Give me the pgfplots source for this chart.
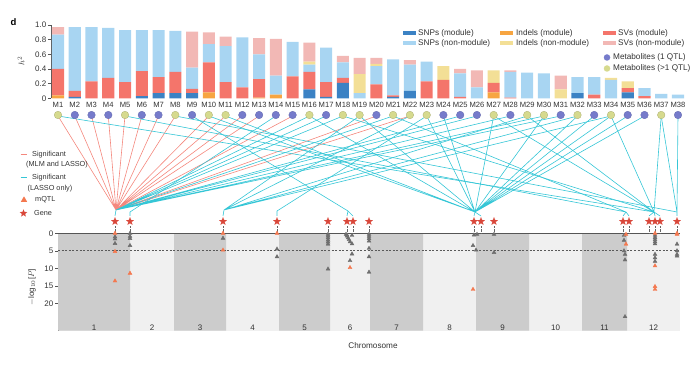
\documentclass[border=0pt]{standalone}
\usepackage{fontspec}
\setmainfont{Liberation Sans}
\usepackage{pgfplots}
\usepackage{pgfplotstable}
\pgfplotsset{compat=1.18}
\usetikzlibrary{shapes.geometric}
\definecolor{snpm}{HTML}{3B82C4}
\definecolor{snpn}{HTML}{A8D5F2}
\definecolor{indm}{HTML}{F7A541}
\definecolor{indn}{HTML}{F3DF96}
\definecolor{svm}{HTML}{F4756B}
\definecolor{svn}{HTML}{F2B8B5}
\definecolor{metone}{HTML}{767BCB}
\definecolor{metmore}{HTML}{D6DA8E}
\definecolor{redline}{HTML}{F4877D}
\definecolor{cyanline}{HTML}{35C6D6}
\definecolor{trigray}{HTML}{6E6E6E}
\definecolor{triorange}{HTML}{F4784F}
\definecolor{starred}{HTML}{D9473A}
\definecolor{darkchr}{HTML}{CCCCCC}
\definecolor{lightchr}{HTML}{F0F0F0}
\definecolor{txt}{HTML}{333333}
\definecolor{axisgray}{HTML}{555555}
\newcommand\fsL{\fontsize{8.2}{9.8}\selectfont}
\newcommand\fsS{\fontsize{7.3}{8.6}\selectfont}
\newcommand\fsM{\fontsize{7.6}{9}\selectfont}
\newcommand\fsT{\fontsize{8}{9.4}\selectfont}
\pgfdeclareplotmark{fstar}{%
  \pgfpathmoveto{\pgfpointpolar{90}{\pgfplotmarksize}}%
  \pgfpathlineto{\pgfpointpolar{126}{0.42\pgfplotmarksize}}%
  \pgfpathlineto{\pgfpointpolar{162}{\pgfplotmarksize}}%
  \pgfpathlineto{\pgfpointpolar{198}{0.42\pgfplotmarksize}}%
  \pgfpathlineto{\pgfpointpolar{234}{\pgfplotmarksize}}%
  \pgfpathlineto{\pgfpointpolar{270}{0.42\pgfplotmarksize}}%
  \pgfpathlineto{\pgfpointpolar{306}{\pgfplotmarksize}}%
  \pgfpathlineto{\pgfpointpolar{342}{0.42\pgfplotmarksize}}%
  \pgfpathlineto{\pgfpointpolar{18}{\pgfplotmarksize}}%
  \pgfpathlineto{\pgfpointpolar{54}{0.42\pgfplotmarksize}}%
  \pgfpathclose\pgfusepathqfillstroke}

% heritability per metabolite, stacked components
\pgfplotstableread{
i snpm indm svm snpn indn svn
1 0 0.04 0.36 0.47 0 0.10
2 0.02 0 0.08 0.87 0 0
3 0 0 0.23 0.74 0 0
4 0 0 0.28 0.68 0 0
5 0 0 0.22 0.71 0 0
6 0.03 0 0.34 0.56 0 0
7 0.07 0 0.22 0.64 0 0
8 0.07 0 0.29 0.56 0 0
9 0.07 0 0.06 0.29 0 0.49
10 0 0.08 0.41 0.25 0 0.16
11 0 0 0.22 0.49 0 0.13
12 0 0 0.15 0.68 0 0
13 0 0.01 0.25 0.34 0 0.22
14 0 0.05 0 0.26 0 0.50
15 0 0 0.30 0.47 0 0
16 0.12 0 0.24 0.10 0.04 0.26
17 0.02 0 0.20 0.47 0 0
18 0.21 0 0.07 0.21 0 0.09
19 0 0 0 0.07 0.26 0.22
20 0 0 0.19 0.25 0.03 0.08
21 0.02 0 0.02 0.49 0 0
22 0.10 0 0 0.36 0 0.06
23 0 0 0.23 0.27 0 0
24 0 0 0.25 0 0.19 0
25 0 0 0.02 0.32 0 0.06
26 0 0 0 0.15 0 0.23
27 0 0.08 0.13 0 0.17 0
28 0 0 0.01 0.35 0 0.02
29 0 0 0 0.35 0 0
30 0 0 0 0.34 0 0
31 0 0 0 0 0.12 0.19
32 0.07 0 0 0.22 0 0
33 0 0 0.05 0.24 0 0
34 0 0 0 0.25 0.03 0
35 0.08 0 0.06 0 0.09 0
36 0 0 0.03 0.11 0 0
37 0 0 0 0.06 0 0
38 0 0 0 0.05 0 0
}\bars

% metabolite dots (x position in picture units)
\pgfplotstableread{
x y
74.8 115
91.5 115
108.3 115
141.8 115
158.5 115
192.1 115
242.3 115
259.1 115
275.8 115
292.6 115
326.1 115
376.4 115
443.4 115
460.2 115
476.9 115
510.4 115
560.7 115
594.2 115
627.7 115
644.5 115
678.0 115
}\metone
\pgfplotstableread{
x y
58.0 115
125.0 115
175.3 115
208.8 115
225.6 115
309.4 115
342.9 115
359.6 115
393.1 115
409.9 115
426.7 115
493.7 115
527.2 115
544.0 115
577.5 115
611.0 115
661.2 115
}\metmore

\begin{document}
\begin{tikzpicture}[x=1pt,y=1pt]
\useasboundingbox (0,0) rectangle (697,366);

% ---------------- top: stacked heritability bars
\begin{axis}[
  at={(51pt,267.7pt)}, anchor=south west, scale only axis,
  width=635.4pt, height=73.3pt,
  xmin=0.582, xmax=38.5, ymin=0, ymax=1,
  ybar stacked, bar width=0.72,
  axis y line*=left, axis x line*=bottom,
  x axis line style={draw=none},
  y axis line style={draw=axisgray, line width=0.5pt},
  xtick={1,...,38},
  xticklabel={M\pgfmathparse{int(\tick)}\pgfmathresult},
  xtick style={draw=none},
  ytick={0,0.2,0.4,0.6,0.8,1.0},
  yticklabels={0,0.2,0.4,0.6,0.8,1.0},
  ytick style={draw=axisgray, line width=0.5pt},
  tick align=outside, major tick length=3pt,
  xticklabel style={font=\fsM, text=txt, inner sep=1pt},
  yticklabel style={font=\fsT, text=txt, inner sep=1.5pt},
]
\addplot[fill=snpm, draw=none] table[x=i, y=snpm] {\bars};
\addplot[fill=indm, draw=none] table[x=i, y=indm] {\bars};
\addplot[fill=svm, draw=none] table[x=i, y=svm] {\bars};
\addplot[fill=snpn, draw=none] table[x=i, y=snpn] {\bars};
\addplot[fill=indn, draw=none] table[x=i, y=indn] {\bars};
\addplot[fill=svn, draw=none] table[x=i, y=svn] {\bars};
\end{axis}

% ---------------- bottom: mQTL positions by chromosome
\begin{axis}[
  at={(58pt,35.3pt)}, anchor=south west, scale only axis,
  width=622pt, height=97.4pt,
  xmin=58, xmax=680, ymin=0, ymax=27.8, y dir=reverse,
  clip=false,
  axis x line=none, axis y line*=left,
  y axis line style={draw=axisgray, line width=0.5pt},
  ytick={0,5,10,15,20}, yticklabels={0,5,10,15,20},
  ytick style={draw=axisgray, line width=0.5pt},
  tick align=outside, major tick length=3pt,
  yticklabel style={font=\fsT, text=txt, inner sep=1.5pt},
  axis background/.style={fill=lightchr},
]
\addplot[ybar interval, fill=darkchr, draw=none] coordinates {
 (58,27.8) (130,0) (174,27.8) (226,0) (279,27.8) (330,0) (370,27.8)
 (423,0) (476,27.8) (529,0) (582,27.8) (627,0) (680,0)};
\addplot[axisgray, line width=0.8pt, mark=none] coordinates {(58,0) (680,0)};
\addplot[black!65, line width=0.5pt, dash pattern=on 2pt off 1.6pt, mark=none] coordinates {(58,4.8) (680,4.8)};
% stubs below genes
\addplot[ycomb, black!60, line width=0.4pt, densely dotted, mark=none] table {
x y
115 -2.3
130 -2.3
223 -2.3
277 -2.3
328 -2.3
347 -2.3
353 -2.3
369 -2.3
474 -2.3
481 -2.3
494 -2.3
623 -2.3
629 -2.3
649 -2.3
655 -2.3
660 -2.3
677 -2.3
};
% gray mQTL triangles
\addplot[only marks, mark=triangle*, mark size=2.2pt, mark options={fill=trigray, draw=trigray}] table {
x y
115 1.0
115 1.6
115 2.9
130 0.0
130 0.9
130 1.5
130 3.5
223 1.4
277 4.5
277 6.7
328 0.3
328 0.8
328 1.3
328 1.9
328 2.5
328 3.1
328 10.2
346 0.3
347 0.8
348 1.3
349 1.8
350 2.4
352 3.0
352 5.9
350 7.8
347 0.5
352 0.6
369 0.3
369 0.9
369 1.5
369 2.2
369 4.3
369 6.7
369 11.1
474 0.5
477 0.3
473 3.5
476 4.8
494 0.3
494 5.5
624 0.6
624 2.0
624 5.0
625 6.0
625 7.6
625 23.8
655 0.6
655 1.2
655 1.8
655 2.4
655 3.0
655 6.0
655 7.0
655 8.0
677 3.1
677 5.0
677 6.0
677 6.5
};
% orange mQTL triangles
\addplot[only marks, mark=triangle*, mark size=2.2pt, mark options={fill=triorange, draw=triorange}] table {
x y
115 0.0
115 5.2
115 13.6
130 11.4
223 0.0
223 4.8
277 0.0
350 9.8
473 16.0
626 0.3
626 3.1
655 0.0
655 9.3
655 15.2
655 16.0
677 0.0
677 0.3
};
% genes
\addplot[only marks, mark=fstar, mark size=3.9pt, mark options={fill=starred, draw=starred, line width=0.2pt}] table {
x y
115 -3.4
130 -3.4
223 -3.4
277 -3.4
328 -3.4
347 -3.4
353 -3.4
369 -3.4
474 -3.4
481 -3.4
494 -3.4
623 -3.4
629 -3.4
649 -3.4
655 -3.4
660 -3.4
677 -3.4
};
\foreach \cx/\cn in {94/1,152/2,200/3,252.5/4,304.5/5,350/6,396.5/7,449.5/8,502.5/9,555.5/10,604.5/11,653.5/12}{
  \edef\tmp{\noexpand\node[font=\noexpand\fsT, text=txt] at (axis cs:\cx,27) {\cn};}\tmp
}
\end{axis}

% ---------------- overlay: links, metabolites, legends, labels
\begin{axis}[
  at={(0pt,0pt)}, anchor=south west, scale only axis,
  width=697pt, height=366pt,
  xmin=0, xmax=697, ymin=0, ymax=366, y dir=reverse,
  hide axis, clip=false,
]
% MLM and LASSO links
\addplot[redline, line width=0.6pt, line join=round, mark=none] coordinates {
 (58,116)(116,210)(74.8,116)(116,210)(91.5,116)(116,210)(108.3,116)(116,210)
 (125,116)(116,210)(141.8,116)(116,210)(158.5,116)(116,210)(175.3,116)(116,210)
 (208.8,116)(116,210)(225.6,116)(116,210)(242.3,116)(116,210)(259.1,116)(116,210)
 (292.6,116)(116,210)(376.4,116)(116,210)(409.9,116)(116,210)};
% LASSO-only links
\addplot[cyanline, line width=0.6pt, line join=round, mark=none] coordinates {
 (115,216)(116,210)(309.4,116)(116,210)(326.1,116)(116,210)(342.9,116)(116,210)
 (393.1,116)(116,210)(460.2,116)(116,210)(476.9,116)(116,210)(510.4,116)(116,210)
 (544,116)(116,210)(560.7,116)};
\addplot[cyanline, line width=0.6pt, line join=round, mark=none] coordinates {
 (130,216)(130,212)(275.8,116)};
\addplot[cyanline, line width=0.6pt, line join=round, mark=none] coordinates {
 (223,216)(224,210)(359.6,116)(224,210)(409.9,116)(224,210)(527.2,116)(224,210)
 (577.5,116)(224,210)(611,116)};
\addplot[cyanline, line width=0.6pt, line join=round, mark=none] coordinates {
 (277,216)(277,211)(426.7,116)};
\addplot[cyanline, line width=0.6pt, line join=round, mark=none] coordinates {
 (347,216)(348,211)(192.1,116)(348,211)(353,216)};
\addplot[cyanline, line width=0.6pt, line join=round, mark=none] coordinates {
 (474,216)(475,212)(481,216)(475,212)(208.8,116)(475,212)(225.6,116)(475,212)
 (309.4,116)(475,212)(359.6,116)(475,212)(426.7,116)(475,212)(443.4,116)(475,212)
 (493.7,116)(475,212)(544,116)(475,212)(577.5,116)(475,212)(594.2,116)(475,212)
 (611,116)(475,212)(627.7,116)(475,212)(644.5,116)};
\addplot[cyanline, line width=0.6pt, line join=round, mark=none] coordinates {
 (623,216)(626,212)(629,216)(626,212)(125,116)(626,212)(393.1,116)};
\addplot[cyanline, line width=0.6pt, line join=round, mark=none] coordinates {
 (649,216)(654,212)(655,216)(654,212)(660,216)(654,212)(58,116)(654,212)
 (342.9,116)(654,212)(493.7,116)(654,212)(527.2,116)(654,212)(611,116)(654,212)
 (661.2,116)};
\addplot[cyanline, line width=0.6pt, line join=round, mark=none] coordinates {
 (677,216)(677,212)(175.3,116)(677,212)(661.2,116)(677,212)(678,116)};
% metabolite dots
\addplot[only marks, mark=*, mark size=3.8pt, mark options={fill=metone, draw=metone!85!black, line width=0.3pt}] table {\metone};
\addplot[only marks, mark=*, mark size=3.8pt, mark options={fill=metmore, draw=metmore!80!black, line width=0.3pt}] table {\metmore};

% top-right legend
\fill[snpm] (axis cs:403,31.3) rectangle (axis cs:416,35.3);
\fill[snpn] (axis cs:403,41.3) rectangle (axis cs:416,45.3);
\fill[indm] (axis cs:500,31.3) rectangle (axis cs:513,35.3);
\fill[indn] (axis cs:500,41.3) rectangle (axis cs:513,45.3);
\fill[svm]  (axis cs:603,31.3) rectangle (axis cs:616,35.3);
\fill[svn]  (axis cs:603,41.3) rectangle (axis cs:616,45.3);
\node[anchor=west, font=\fsL, text=txt, inner sep=0] at (axis cs:418,33.3) {SNPs (module)};
\node[anchor=west, font=\fsL, text=txt, inner sep=0] at (axis cs:418,43.3) {SNPs (non-module)};
\node[anchor=west, font=\fsL, text=txt, inner sep=0] at (axis cs:516,33.3) {Indels (module)};
\node[anchor=west, font=\fsL, text=txt, inner sep=0] at (axis cs:516,43.3) {Indels (non-module)};
\node[anchor=west, font=\fsL, text=txt, inner sep=0] at (axis cs:618,33.3) {SVs (module)};
\node[anchor=west, font=\fsL, text=txt, inner sep=0] at (axis cs:618,43.3) {SVs (non-module)};
\node[circle, fill=metone, inner sep=0, minimum size=6.5pt] at (axis cs:607,57.5) {};
\node[circle, fill=metmore, inner sep=0, minimum size=6.5pt] at (axis cs:607,68.5) {};
\node[anchor=west, font=\fsL, text=txt, inner sep=0] at (axis cs:613,57.5) {Metabolites (1 QTL)};
\node[anchor=west, font=\fsL, text=txt, inner sep=0] at (axis cs:613,68.5) {Metabolites (>1 QTL)};

% left legend
\draw[redline, line width=0.8pt] (axis cs:20.5,154.3) -- (axis cs:27,154.3);
\node[anchor=west, font=\fsS, text=txt, inner sep=0] at (axis cs:32,154.3) {Significant};
\node[anchor=west, font=\fsS, text=txt, inner sep=0] at (axis cs:26,164.5) {(MLM and LASSO)};
\draw[cyanline, line width=0.8pt] (axis cs:20.5,177.3) -- (axis cs:27,177.3);
\node[anchor=west, font=\fsS, text=txt, inner sep=0] at (axis cs:32,177.3) {Significant};
\node[anchor=west, font=\fsS, text=txt, inner sep=0] at (axis cs:27.5,188.3) {(LASSO only)};
\node[isosceles triangle, isosceles triangle apex angle=60, shape border rotate=90, fill=triorange, inner sep=0, minimum size=5.5pt] at (axis cs:24,200) {};
\node[anchor=west, font=\fsS, text=txt, inner sep=0] at (axis cs:35,200) {mQTL};
\node[star, star points=5, star point ratio=2.3, fill=starred, inner sep=0, minimum size=8pt] at (axis cs:23.5,213.3) {};
\node[anchor=west, font=\fsS, text=txt, inner sep=0] at (axis cs:34,213.3) {Gene};

% labels
\node[font=\fontsize{9.5}{11}\selectfont\bfseries, text=black] at (axis cs:13.5,22.5) {d};
\node[rotate=90, font=\fsT, text=txt] at (axis cs:21,61) {$h^2$};
\node[rotate=90, font=\fsT, text=txt] at (axis cs:32,287) {$-$log$_{10}$[$P$]};
\node[font=\fsL, text=txt] at (axis cs:373,346) {Chromosome};
\end{axis}
\end{tikzpicture}
\end{document}
